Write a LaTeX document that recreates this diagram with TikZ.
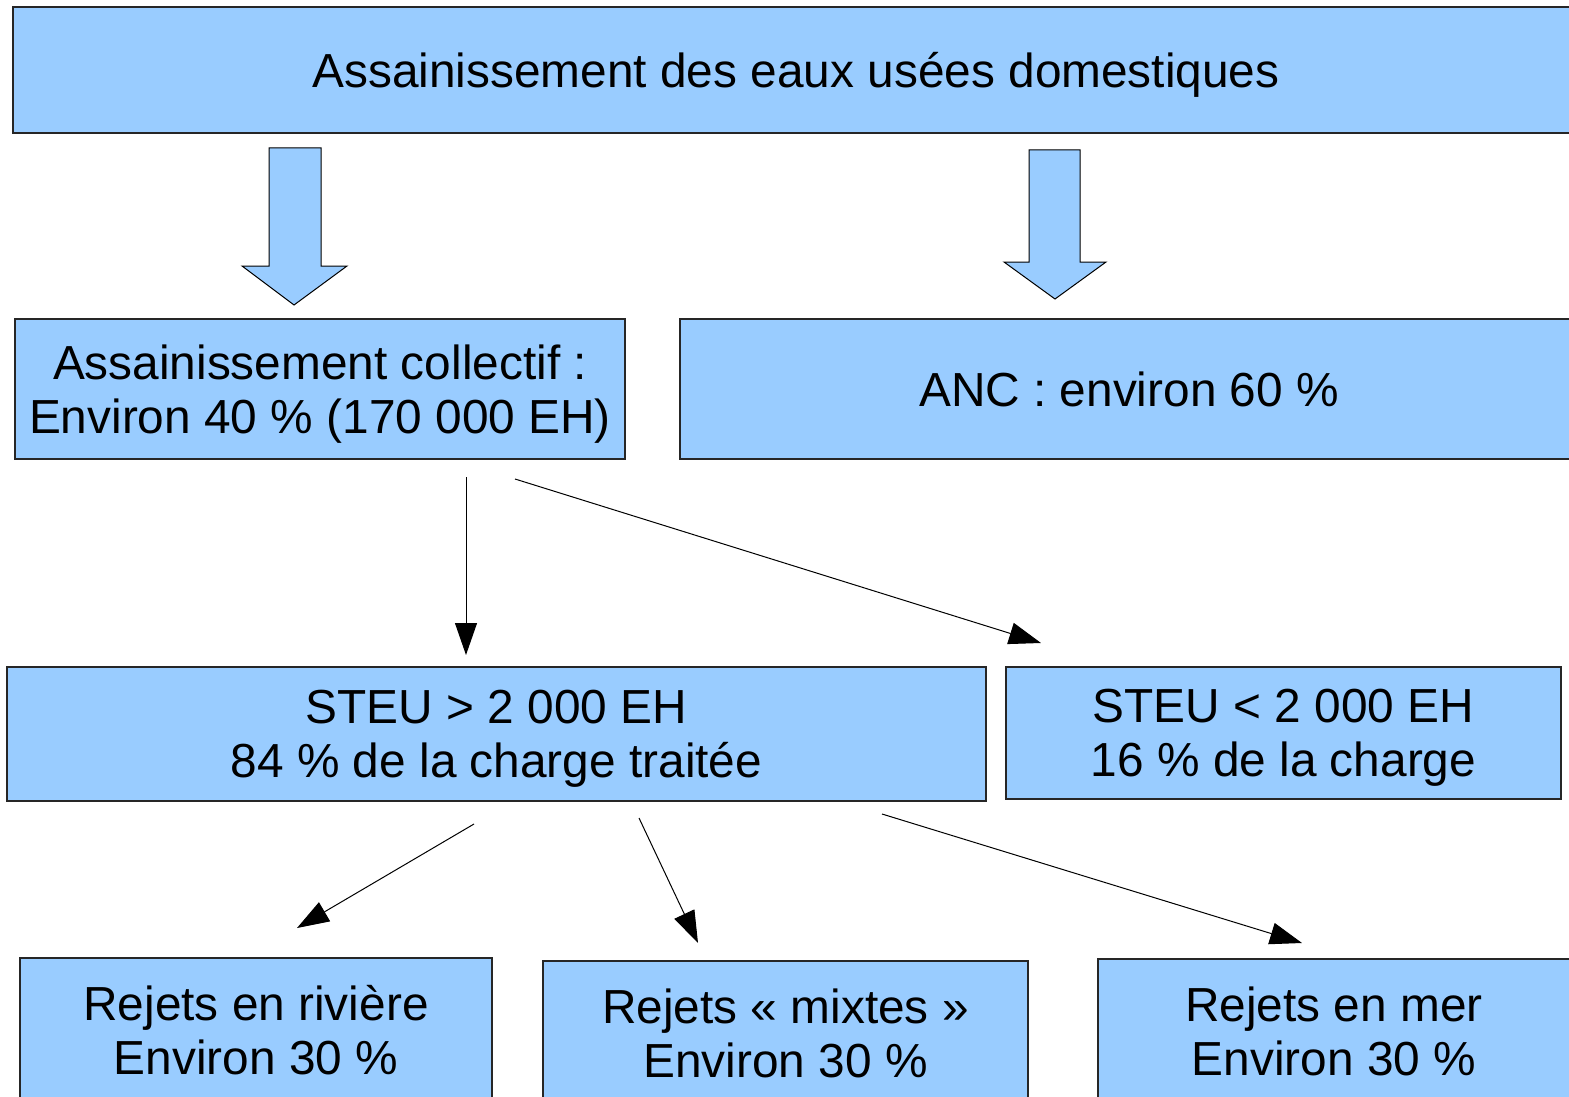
\documentclass[tikz,border=0pt]{standalone}
\usepackage{fontspec}
\setmainfont{Liberation Sans}
\usetikzlibrary{arrows.meta}
\definecolor{boxblue}{HTML}{99CCFF}
\tikzset{
  box/.style={draw=black!85, line width=0.75pt, fill=boxblue, inner sep=0pt,
    align=center, text depth=0pt, font=\fontsize{23.9}{27}\selectfont},
  link/.style={line width=0.5pt, -{Triangle[length=16pt,width=11pt]}},
  fatarrow/.style={draw=black, line width=0.5pt, fill=boxblue}
}

\begin{document}
\begin{tikzpicture}[x=0.5pt, y=-0.5pt]
                \useasboundingbox (0, 0) rectangle (1569, 1097);
                % Boxes
                \node [box, minimum width=783pt, minimum height=63pt] (top) at (796, 70) {Assainissement des eaux usées domestiques};
                \node [box, minimum width=305pt, minimum height=70pt] (coll) at (320, 389) {Assainissement collectif :\\Environ 40 \% (170 000 EH)};
                \node [box, minimum width=449pt, minimum height=70pt] (anc) at (1129, 389) {ANC : environ 60 \%};
                \node [box, minimum width=489.5pt, minimum height=67pt] (big) at (496.5, 734) {STEU > 2 000 EH\\84 \% de la charge traitée};
                \node [box, minimum width=277.5pt, minimum height=66pt] (small) at (1283.5, 733) {STEU < 2 000 EH\\16 \% de la charge};
                \node [box, minimum width=236pt, minimum height=72pt] (riv) at (256, 1030) {Rejets en rivière\\Environ 30 \%};
                \node [box, minimum width=242.5pt, minimum height=72pt] (mix) at (785.5, 1033) {Rejets « mixtes »\\Environ 30 \%};
                \node [box, minimum width=236pt, minimum height=72pt] (mer) at (1334, 1031) {Rejets en mer\\Environ 30 \%};
                % Big arrows
                \filldraw [fatarrow] (269, 148) -- (321, 148) -- (321, 266) -- (347, 266) -- (294, 305) -- (242, 266) -- (269, 266) -- cycle;
                \filldraw [fatarrow] (1029, 150) -- (1080, 150) -- (1080, 262) -- (1106, 262) -- (1055, 299) -- (1004, 262) -- (1029, 262) -- cycle;
                % Free ends of the links
                \coordinate (c1) at (466, 477);
                \coordinate (c2) at (466, 655);
                \coordinate (c3) at (515, 479);
                \coordinate (c4) at (1041, 643);
                \coordinate (r1) at (474, 824);
                \coordinate (r2) at (297, 928);
                \coordinate (m1) at (639, 818);
                \coordinate (m2) at (698, 943);
                \coordinate (s1) at (882, 814);
                \coordinate (s2) at (1302, 943);
                % Links
                \draw [link] (c1) -- (c2);
                \draw [link] (c3) -- (c4);
                \draw [link] (r1) -- (r2);
                \draw [link] (m1) -- (m2);
                \draw [link] (s1) -- (s2);
            \end{tikzpicture}
\end{document}
